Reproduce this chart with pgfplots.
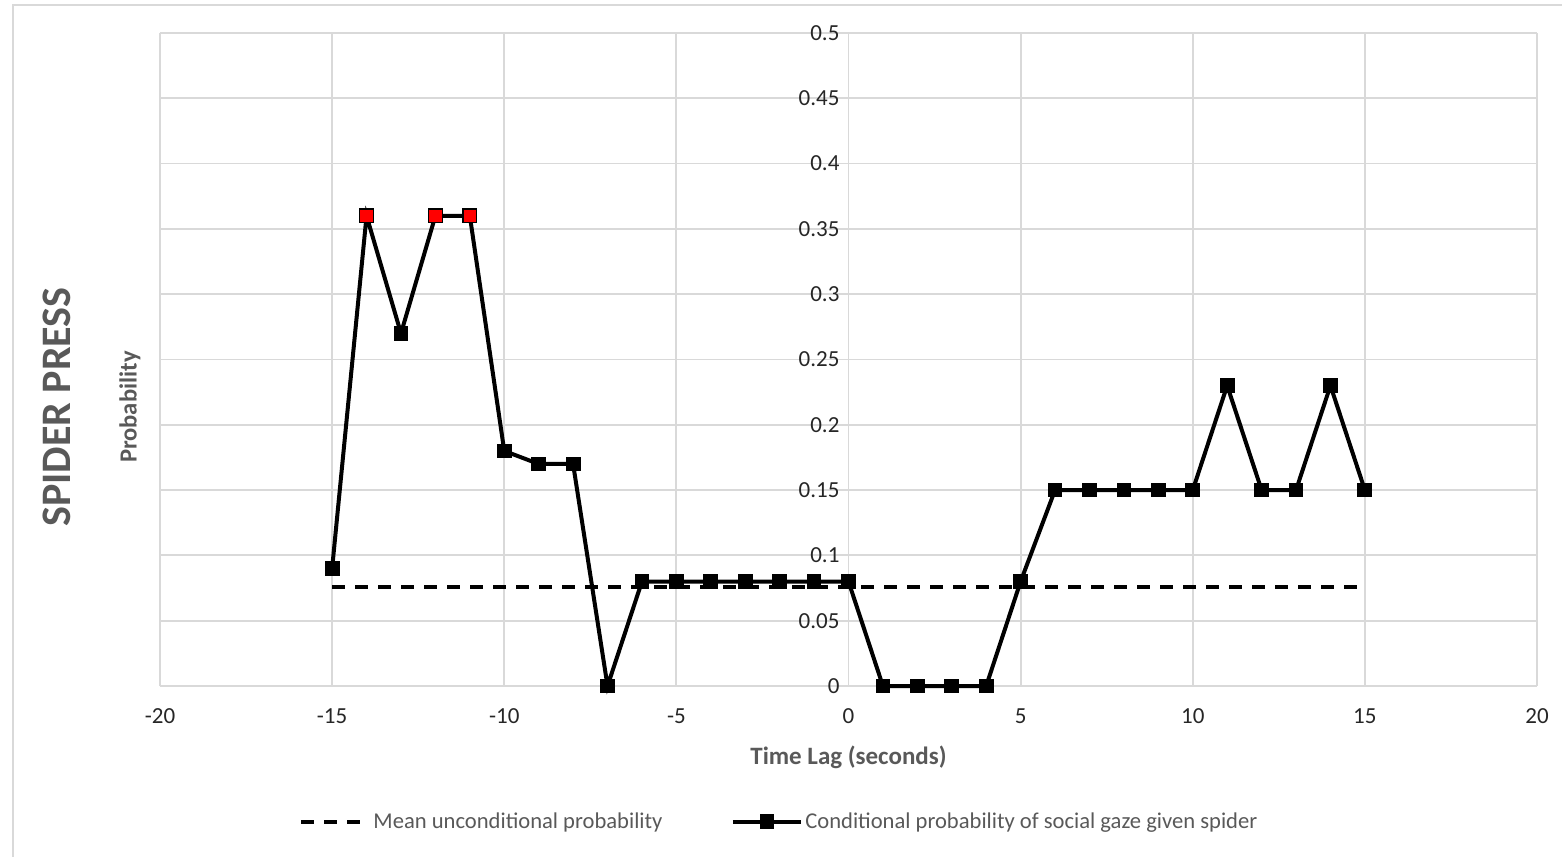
\documentclass[border=0pt]{standalone}
\usepackage{fontspec}
\setmainfont{Carlito}
\usepackage{pgfplots}
\pgfplotsset{compat=1.18}
\usepackage{pgfplotstable}

\definecolor{gridgray}{HTML}{D9D9D9}
\definecolor{titlegray}{HTML}{595959}
\definecolor{ticktext}{HTML}{262626}

% Conditional probability of social gaze given spider, per time lag
\pgfplotstableread{
lag prob
-15 0.09
-14 0.36
-13 0.27
-12 0.36
-11 0.36
-10 0.18
-9 0.17
-8 0.17
-7 0
-6 0.08
-5 0.08
-4 0.08
-3 0.08
-2 0.08
-1 0.08
0 0.08
1 0
2 0
3 0
4 0
5 0.08
6 0.15
7 0.15
8 0.15
9 0.15
10 0.15
11 0.23
12 0.15
13 0.15
14 0.23
15 0.15
}\condprob

% Lags whose probability stands out
\pgfplotstableread{
lag prob
-14 0.36
-12 0.36
-11 0.36
}\peaks

% Mean unconditional probability
\pgfplotstableread{
lag prob
-15 0.076
15 0.076
}\meanprob

\begin{document}
\begin{tikzpicture}
\begin{axis}[
  name=ax,
  at={(0,0)}, anchor=south west,
  scale only axis,
  width=688.5pt, height=326.5pt,
  xmin=-20, xmax=20, ymin=0, ymax=0.5,
  axis x line=bottom, axis y line=center,
  axis line style={draw=gridgray, line width=0.9pt, -},
  hide obscured x ticks=false, hide obscured y ticks=false,
  xtick={-20,-15,...,20},
  ytick={0,0.05,...,0.51},
  yticklabels={0,0.05,0.1,0.15,0.2,0.25,0.3,0.35,0.4,0.45,0.5},
  major tick length=0pt,
  grid=major,
  major grid style={draw=gridgray, line width=0.9pt},
  /pgf/number format/assume math mode=true,
  tick label style={font=\fontsize{11.5}{13}\selectfont, text=ticktext},
  xticklabel style={yshift=-8pt},
  yticklabel style={xshift=-1pt},
  xlabel={Time Lag (seconds)},
  xlabel style={at={(axis description cs:0.5,0)}, anchor=center, yshift=-35.5pt,
    font=\bfseries\fontsize{12.5}{14}\selectfont, text=titlegray},
  clip=false,
  legend columns=2,
  legend style={at={(axis description cs:0.450,-0.208)}, anchor=center,
    draw=none, fill=none, font=\fontsize{11.3}{13}\selectfont, text=titlegray,
    nodes={inner xsep=1.2pt},
    /tikz/every even column/.append style={column sep=33pt}},
  legend cell align=left,
  legend image code/.code={
    \draw[mark repeat=2, mark phase=2, #1]
      plot coordinates {(0pt,0pt) (17pt,0pt) (34pt,0pt)};
  },
]
\addplot[black, line width=1.8pt, dash pattern=on 6.5pt off 5pt]
  table[x=lag, y=prob] {\meanprob};
\addlegendentry{Mean unconditional probability}

\addplot[black, line width=2pt, mark=square*, mark size=3.4pt,
  mark options={solid, fill=black, line width=0.6pt}]
  table[x=lag, y=prob] {\condprob};
\addlegendentry{Conditional probability of social gaze given spider}

\addplot[only marks, mark=square*, mark size=3.4pt,
  mark options={fill=red, draw=black, line width=0.7pt}, forget plot]
  table[x=lag, y=prob] {\peaks};

% Panel title and y-axis title, both rotated beside the plot area
\node[rotate=90, anchor=center, font=\bfseries\fontsize{21}{24}\selectfont, text=titlegray]
  at (axis description cs:-0.0748,0.427) {SPIDER PRESS};
\node[rotate=90, anchor=center, font=\bfseries\fontsize{12.3}{14}\selectfont, text=titlegray]
  at (axis description cs:-0.0218,0.427) {Probability};
\end{axis}
\pgfresetboundingbox
\useasboundingbox (ax.south west) ++(-80pt,-85pt) rectangle ++(781pt,428pt);
\clip (ax.south west) ++(-80pt,-85pt) rectangle ++(781pt,428pt);
\draw[gridgray, line width=0.9pt] (ax.south west) ++(-73.5pt,-120pt) -- ++(0pt,460.5pt) -- ++(820pt,0pt);
\end{tikzpicture}
\end{document}
